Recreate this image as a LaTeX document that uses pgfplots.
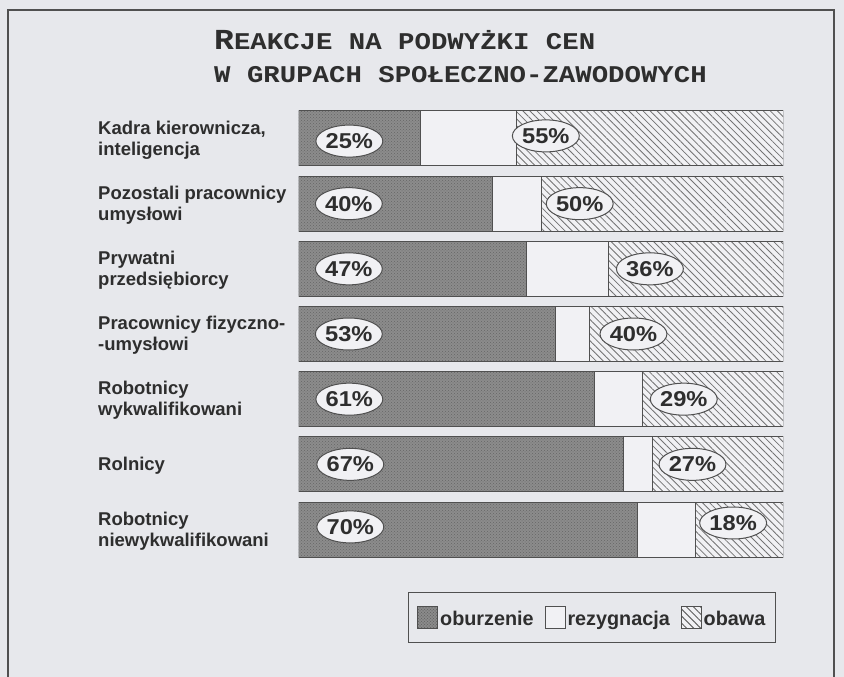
\documentclass[border=0pt]{standalone}
\usepackage{pgfplots}
\pgfplotsset{compat=1.18}
\usepackage{pgfplotstable}
\usepackage{fontspec}
\setmainfont{Liberation Sans}
\newfontfamily\titlefont[FakeStretch=1.14]{Liberation Mono}
\newfontfamily\pctfont[FakeStretch=1.1]{Liberation Sans}
\usetikzlibrary{patterns,patterns.meta,shapes.geometric}
\definecolor{bg}{HTML}{E7E8EC}
\definecolor{segwhite}{HTML}{F1F1F4}
\definecolor{dark}{HTML}{8C8C8C}
\definecolor{ink}{HTML}{2E2E2E}
\definecolor{edge}{HTML}{505050}

\pgfplotstableread{
row ob rez obw
0 25 20 55
1 40 10 50
2 47 17 36
3 53 7 40
4 61 10 29
5 67 6 27
6 70 12 18
}\bars

\pgfplotstableread{
x y lab
10.4 0.04 25
51.0 -0.04 55
10.3 1.0 40
58.0 1.0 50
10.3 2.0 47
72.5 2.0 36
10.3 3.0 53
69.1 3.0 40
10.4 4.0 61
79.5 4.0 29
10.6 5.0 67
81.3 5.0 27
10.6 5.96 70
89.7 5.9 18
}\labels

\begin{document}
\begin{tikzpicture}[x=1pt,y=1pt]
\useasboundingbox (0,0) rectangle (844,-677);
\clip (0,0) rectangle (844,-677);
\fill[bg] (0,0) rectangle (844,-677);
\draw[edge, line width=1.3pt] (8,-700) -- (8,-10) -- (834,-10) -- (834,-700);

\node[anchor=base west, inner sep=0pt, text=ink] at (214,-50)
  {\titlefont\bfseries\fontsize{29}{29}\selectfont R\fontsize{24}{24}\selectfont EAKCJE NA PODWYŻKI CEN};
\node[anchor=base west, inner sep=0pt, text=ink] at (214,-83)
  {\titlefont\bfseries\fontsize{24}{24}\selectfont W GRUPACH SPOŁECZNO-ZAWODOWYCH};

\begin{axis}[
  at={(299pt,-105.9pt)}, anchor=north west,
  width=484pt, height=456.2pt, scale only axis,
  xmin=0, xmax=100, ymin=-0.5, ymax=6.5, y dir=reverse,
  axis line style={draw=none},
  xtick=\empty,
  ytick={0,1,2,3,4,5,6},
  major tick length=0pt,
  yticklabels={{Kadra kierownicza,\\inteligencja},
               {Pozostali pracownicy\\umysłowi},
               {Prywatni\\przedsiębiorcy},
               {Pracownicy fizyczno-\\-umysłowi},
               {Robotnicy\\wykwalifikowani},
               {Rolnicy},
               {Robotnicy\\niewykwalifikowani}},
  yticklabel style={font=\bfseries\fontsize{18.5}{21}\selectfont, align=left,
    anchor=west, inner sep=0pt, xshift=-201pt, yshift=-1.5pt, text=ink},
  xbar stacked, bar width=0.844,
  every axis plot/.append style={draw=edge, line width=1pt},
  legend columns=3,
  legend style={at={(axis description cs:0.225,-0.0655)}, anchor=north west,
    draw=edge, line width=1pt, fill=bg, text=ink,
    font=\bfseries\fontsize{19.8}{20}\selectfont,
    nodes={inner xsep=1pt},
    inner xsep=9pt, inner ysep=13.5pt,
    /tikz/every odd column/.append style={column sep=1pt},
    /tikz/every even column/.append style={column sep=10pt}},
]
\addplot[fill=dark, postaction={pattern=crosshatch dots, pattern color=black!60},
  legend image code/.code={\draw[draw=edge, line width=0.8pt, fill=dark, postaction={pattern=crosshatch dots, pattern color=black!60}] (0pt,-9pt) rectangle (20pt,13pt);}]
  table[x=ob, y=row]{\bars};
\addlegendentry{oburzenie}
\addplot[fill=segwhite,
  legend image code/.code={\draw[draw=edge, line width=0.8pt, fill=segwhite] (0pt,-9pt) rectangle (20pt,13pt);}]
  table[x=rez, y=row]{\bars};
\addlegendentry{rezygnacja}
\addplot[fill=segwhite, postaction={pattern={Lines[angle=-45, distance=5pt, line width=0.8pt]}, pattern color=black!55},
  legend image code/.code={\draw[draw=edge, line width=0.8pt, fill=segwhite, postaction={pattern={Lines[angle=-45, distance=5pt, line width=0.8pt]}, pattern color=black!55}] (0pt,-9pt) rectangle (20pt,13pt);}]
  table[x=obw, y=row]{\bars};
\addlegendentry{obawa}
\end{axis}

\begin{axis}[
  at={(299pt,-105.9pt)}, anchor=north west,
  width=484pt, height=456.2pt, scale only axis,
  xmin=0, xmax=100, ymin=-0.5, ymax=6.5, y dir=reverse,
  hide axis,
]
\addplot[draw=none, mark=none, point meta=explicit symbolic,
  nodes near coords={\pgfplotspointmeta\%},
  nodes near coords style={anchor=center, ellipse, draw=edge, line width=1pt,
    fill=segwhite, text=ink, minimum width=65pt, minimum height=32pt, inner sep=0pt,
    font=\pctfont\bfseries\fontsize{21.5}{22}\selectfont}]
  table[x=x, y=y, meta=lab]{\labels};
\end{axis}
\end{tikzpicture}
\end{document}
